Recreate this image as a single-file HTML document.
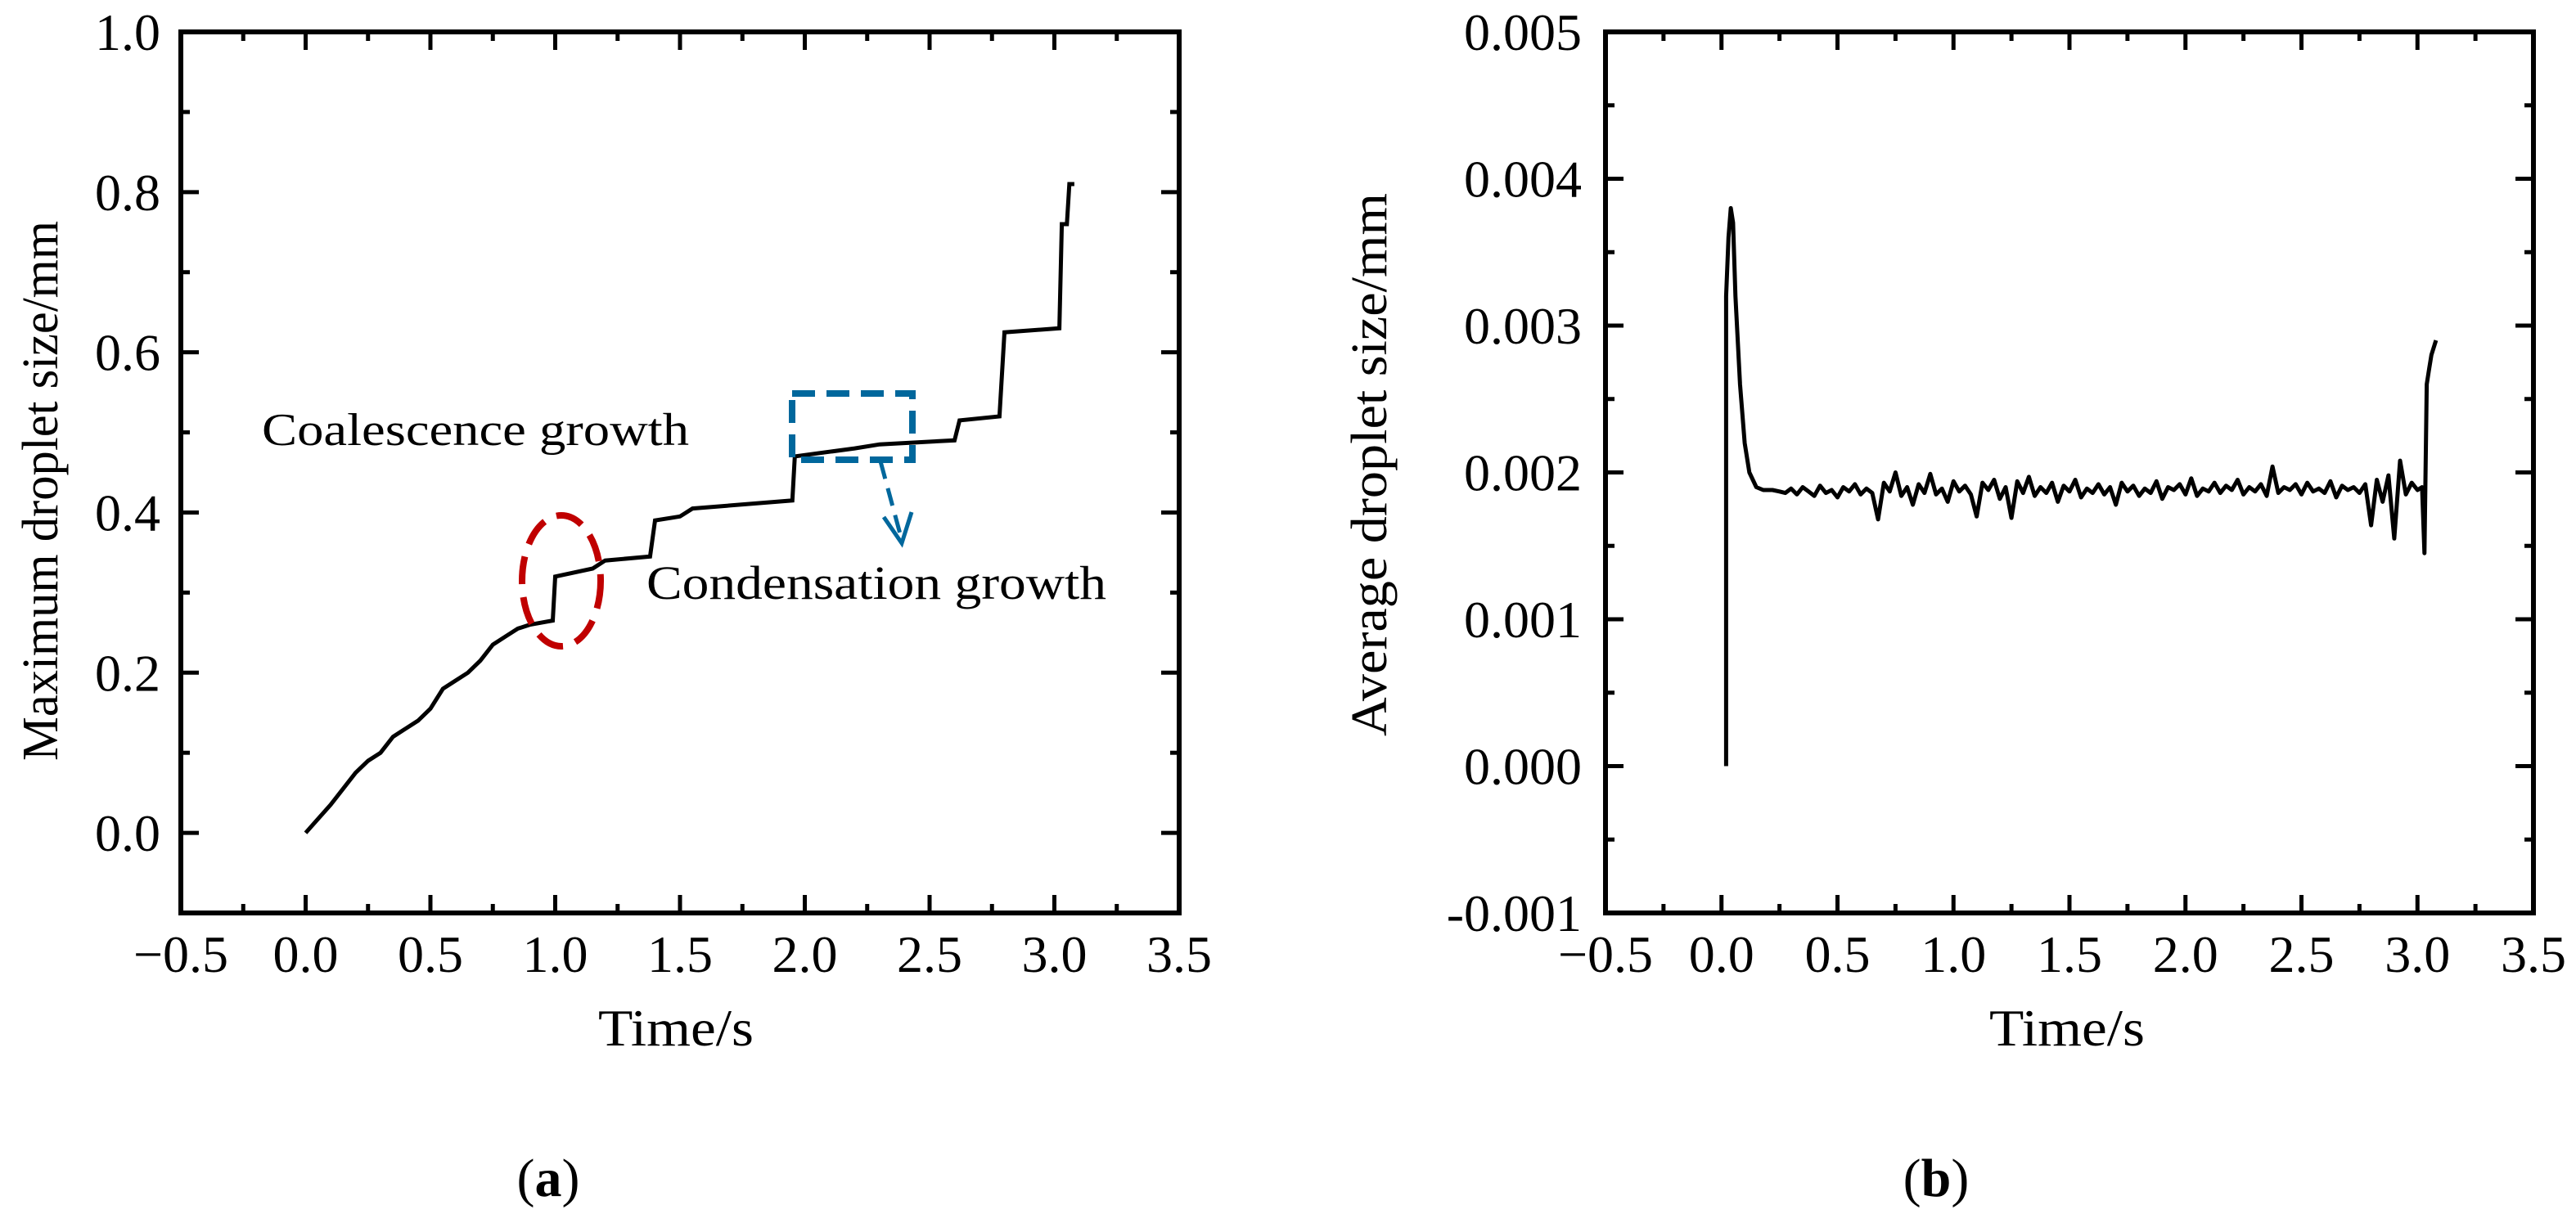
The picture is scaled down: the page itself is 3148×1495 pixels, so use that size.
<!DOCTYPE html>
<html><head><meta charset="utf-8"><style>
html,body{margin:0;padding:0;background:#fff;}
svg{display:block;font-family:"Liberation Serif",serif;}
</style></head><body>
<svg id="fig" width="3148" height="1495" viewBox="0 0 3148 1495" xmlns="http://www.w3.org/2000/svg">
<g id="pa"></g>
<g id="pb"></g>
</svg>
<script>
// Panel (a) data: maximum droplet size (mm) vs time (s)
const maxTime = [0,0.1,0.2,0.25,0.3,0.35,0.4,0.45,0.5,0.55,0.6,0.65,0.7,0.75,0.8,0.85,0.9,0.99,1.0,1.15,1.2,1.38,1.4,1.5,1.55,1.95,1.96,2.2,2.3,2.6,2.62,2.78,2.8,3.02,3.03,3.05,3.06,3.08];
const maxSize = [0,0.035,0.075,0.09,0.1,0.12,0.13,0.14,0.155,0.18,0.19,0.2,0.215,0.235,0.245,0.255,0.26,0.265,0.32,0.33,0.34,0.345,0.39,0.395,0.405,0.415,0.47,0.48,0.485,0.49,0.515,0.52,0.625,0.63,0.76,0.76,0.81,0.81];
const xTicks = [-0.5,0,0.5,1,1.5,2,2.5,3,3.5];
const xTickLabels = ["\u22120.5","0.0","0.5","1.0","1.5","2.0","2.5","3.0","3.5"];
const yTicksA = [0,0.2,0.4,0.6,0.8,1.0];
const yTickLabelsA = ["0.0","0.2","0.4","0.6","0.8","1.0"];
// Panel (b) data: average droplet size (values in micrometres = 1e-3 mm)
const avgHeadTime = [0.02,0.02,0.03,0.04,0.05,0.06,0.08,0.1,0.12,0.15,0.18,0.22,0.25];
const avgHeadUm = [0,3.2,3.6,3.8,3.7,3.2,2.6,2.2,2.0,1.9,1.88,1.88,1.87];
const avgMidStart = 0.275, avgMidStep = 0.025;
const avgMidUm = [1.86,1.89,1.85,1.90,1.87,1.84,1.91,1.86,1.88,1.83,
1.90,1.87,1.92,1.85,1.89,1.86,1.68,1.93,1.87,2.00,
1.84,1.90,1.78,1.92,1.86,1.99,1.85,1.89,1.80,1.94,
1.87,1.91,1.85,1.70,1.93,1.88,1.95,1.82,1.90,1.69,
1.94,1.86,1.97,1.84,1.90,1.86,1.93,1.80,1.91,1.87,
1.95,1.83,1.89,1.86,1.92,1.85,1.90,1.78,1.93,1.87,
1.91,1.84,1.89,1.86,1.94,1.82,1.90,1.88,1.92,1.85,
1.96,1.84,1.89,1.87,1.93,1.86,1.91,1.88,1.95,1.85,
1.90,1.87,1.92,1.84,2.04,1.86,1.90,1.88,1.92,1.85,
1.93,1.87,1.89,1.86,1.94,1.83,1.91,1.88,1.90,1.86,
1.92,1.64,1.95,1.80,1.98,1.55,2.08,1.85,1.93,1.88];
const avgTailTime = [3.02,3.03,3.04,3.05,3.06,3.08];
const avgTailUm = [1.9,1.45,2.6,2.7,2.8,2.9];
const yTicksB = [-0.001,0,0.001,0.002,0.003,0.004,0.005];
const yTickLabelsB = ["-0.001","0.000","0.001","0.002","0.003","0.004","0.005"];

const NS="http://www.w3.org/2000/svg";
function mk(parent,tag,attrs,text){const e=document.createElementNS(NS,tag);for(const k in attrs)e.setAttribute(k,attrs[k]);if(text!==undefined)e.textContent=text;parent.appendChild(e);return e;}

function drawAxes(g,L,R,T,B,xmin,xmax,ymin,ymax,yTicks,yLabels,yMinorStep,labelRight){
  const sx=v=>L+(v-xmin)/(xmax-xmin)*(R-L);
  const sy=v=>T+(ymax-v)/(ymax-ymin)*(B-T);
  const frame=mk(g,'rect',{x:L,y:T,width:R-L,height:B-T,fill:'none',stroke:'#000','stroke-width':6});
  
  
  for(let v=xmin;v<=xmax+1e-9;v+=0.25){
    const major=Math.abs(v*2-Math.round(v*2))<1e-6;
    const len=major?22:11;const x=sx(v);
    const t1=mk(g,'line',{x1:x,y1:B,x2:x,y2:B-len,stroke:'#000','stroke-width':5});
    
    
    const t2=mk(g,'line',{x1:x,y1:T,x2:x,y2:T+len,stroke:'#000','stroke-width':5});
    
    
  }
  xTicks.forEach((v,i)=>{
    const t=mk(g,'text',{x:sx(v),y:B+72,'font-size':64,'text-anchor':'middle'},xTickLabels[i]);
    
    
  });
  const n=Math.round((ymax-ymin)/yMinorStep);
  for(let i=0;i<=n;i++){
    const v=ymin+i*yMinorStep;
    const major=yTicks.some(t=>Math.abs(t-v)<yMinorStep/10);
    const len=major?22:11;const y=sy(v);
    const t1=mk(g,'line',{x1:L,y1:y,x2:L+len,y2:y,stroke:'#000','stroke-width':5});
    
    
    const t2=mk(g,'line',{x1:R,y1:y,x2:R-len,y2:y,stroke:'#000','stroke-width':5});
    
    
  }
  yTicks.forEach((v,i)=>{
    const t=mk(g,'text',{x:labelRight,y:sy(v)+22,'font-size':64,'text-anchor':'end'},yLabels[i]);
    
    
  });
  return {sx,sy};
}

// Panel A
const ga=document.getElementById('pa');
const A=drawAxes(ga,221,1441,39,1116,-0.5,3.5,-0.1,1.0,yTicksA,yTickLabelsA,0.1,196);
let d='';
maxTime.forEach((t,i)=>{d+=(i?'L':'M')+A.sx(t).toFixed(1)+','+A.sy(maxSize[i]).toFixed(1);});
const la=mk(ga,'path',{d:d,fill:'none',stroke:'#000','stroke-width':5,'stroke-linejoin':'miter'});


const ell=mk(ga,'ellipse',{cx:686,cy:710,rx:48,ry:80,fill:'none',stroke:'#c00000','stroke-width':8,'stroke-dasharray':'34 16'});


const box=mk(ga,'rect',{x:968,y:481,width:147,height:81,fill:'none',stroke:'#00679c','stroke-width':8,'stroke-dasharray':'28 14'});


const arr=mk(ga,'path',{d:'M1076,564 L1102,660',fill:'none',stroke:'#00679c','stroke-width':5,'stroke-dasharray':'22 12'});


const ah=mk(ga,'path',{d:'M1080,632 L1102,664 L1114,626',fill:'none',stroke:'#00679c','stroke-width':5});


const c1=mk(ga,'text',{x:320,y:544,'font-size':56,textLength:522,lengthAdjust:'spacingAndGlyphs'},'Coalescence growth');


const c2=mk(ga,'text',{x:790,y:732,'font-size':58,textLength:562,lengthAdjust:'spacingAndGlyphs'},'Condensation growth');


const xa=mk(ga,'text',{x:826,y:1278,'font-size':64,'text-anchor':'middle',textLength:190,lengthAdjust:'spacingAndGlyphs'},'Time/s');


const ya=mk(ga,'text',{x:0,y:0,'font-size':62,'text-anchor':'middle',transform:'translate(70,600) rotate(-90)',textLength:660,lengthAdjust:'spacingAndGlyphs'},'Maximum droplet size/mm');


const capA=mk(ga,'text',{x:670,y:1462,'font-size':66,'text-anchor':'middle'});


capA.innerHTML='(<tspan font-weight="bold">a</tspan>)';

// Panel B
const gb=document.getElementById('pb');
const Bx=drawAxes(gb,1962,3096,39,1116,-0.5,3.5,-0.001,0.005,yTicksB,yTickLabelsB,0.0005,1933);
const pts=[];
avgHeadTime.forEach((t,i)=>pts.push([t,avgHeadUm[i]]));
avgMidUm.forEach((v,i)=>pts.push([avgMidStart+i*avgMidStep,v]));
avgTailTime.forEach((t,i)=>pts.push([t,avgTailUm[i]]));
let db='';
pts.forEach((p,i)=>{db+=(i?'L':'M')+Bx.sx(p[0]).toFixed(1)+','+Bx.sy(p[1]/1000).toFixed(1);});
const lb=mk(gb,'path',{d:db,fill:'none',stroke:'#000','stroke-width':5,'stroke-linejoin':'round'});


const xb=mk(gb,'text',{x:2526,y:1278,'font-size':64,'text-anchor':'middle',textLength:190,lengthAdjust:'spacingAndGlyphs'},'Time/s');


const yb=mk(gb,'text',{x:0,y:0,'font-size':62,'text-anchor':'middle',transform:'translate(1694,568) rotate(-90)',textLength:664,lengthAdjust:'spacingAndGlyphs'},'Average droplet size/mm');


const capB=mk(gb,'text',{x:2366,y:1462,'font-size':66,'text-anchor':'middle'});


capB.innerHTML='(<tspan font-weight="bold">b</tspan>)';
</script>
</body></html>
